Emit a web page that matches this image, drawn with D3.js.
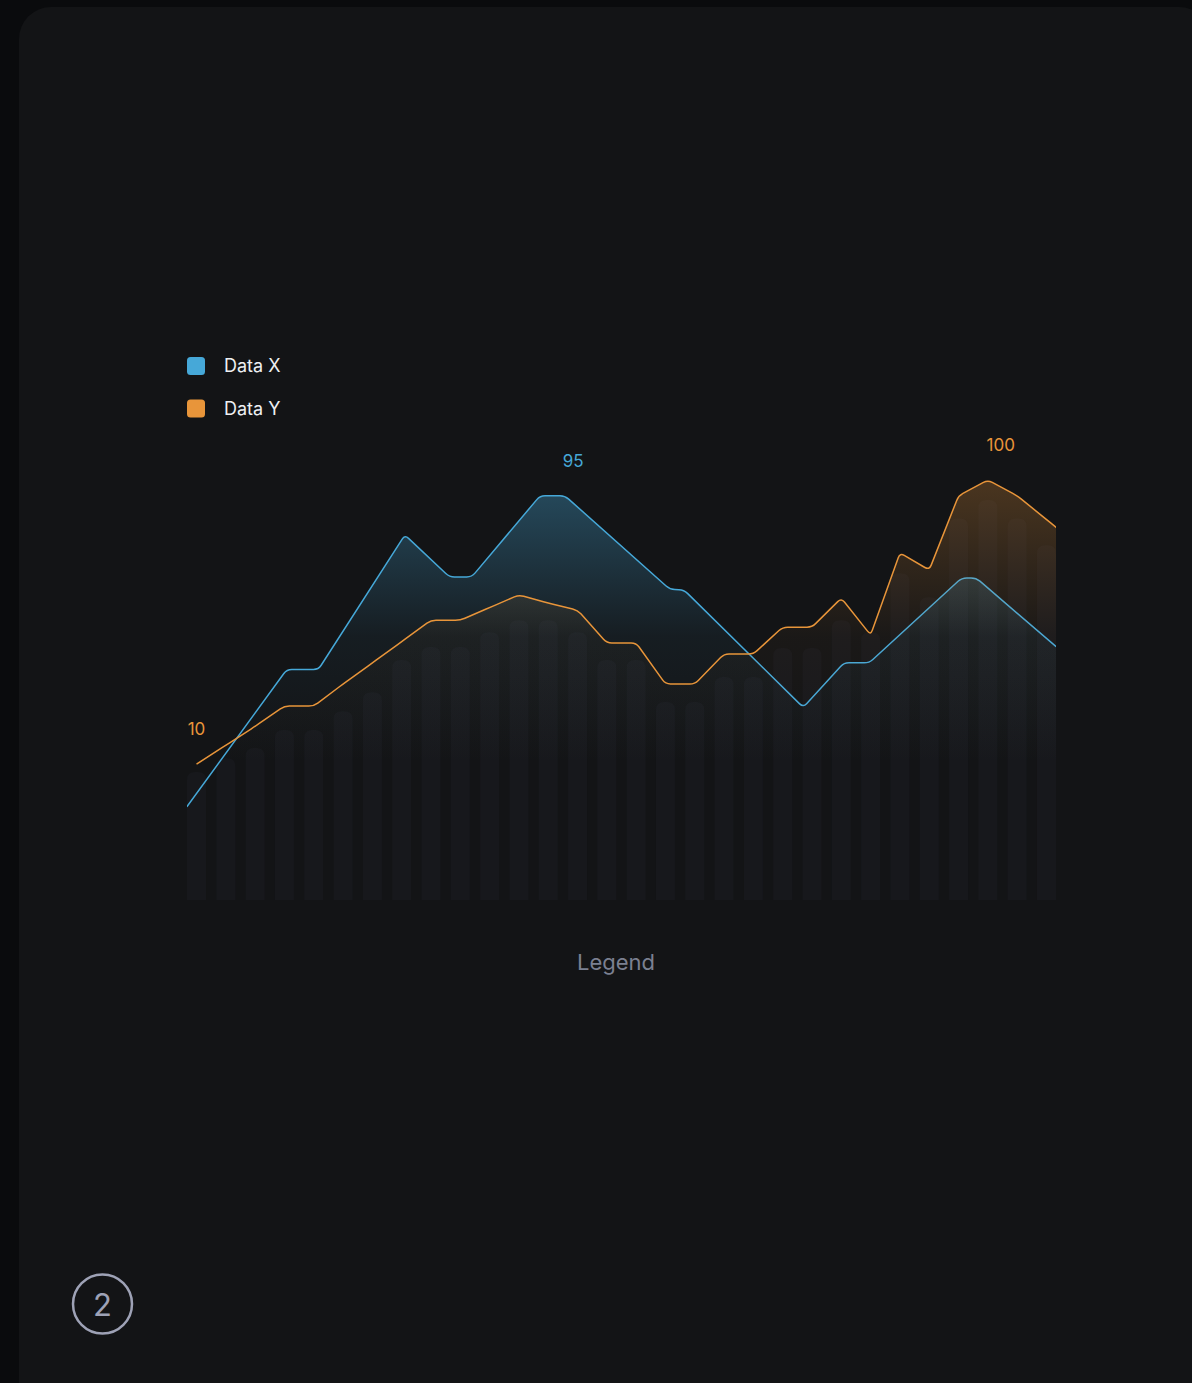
<!DOCTYPE html>
<html>
<head>
<meta charset="utf-8">
<script src="https://cdn.jsdelivr.net/npm/d3@7"></script>
<style>
  html, body { margin: 0; padding: 0; background: #0a0b0d; }
  svg { display: block; font-family: Inter, "Noto Sans", sans-serif; }
</style>
</head>
<body>
<div id="chart"></div>
<script>
// Data – one slot per background bar (30 slots)
const slots = d3.range(30);
const barValues = [7.5, 11.9, 15.1, 20.8, 20.8, 26.8, 32.8, 43.0, 47.1, 47.1,
                   51.8, 55.6, 55.6, 51.8, 43.0, 43.0, 29.7, 29.7, 37.6, 37.6,
                   46.8, 46.8, 55.6, 51.8, 70.5, 62.9, 87.8, 93.7, 87.8, 79.3];

// Data Y: value at every slot (+1 past the edge, clipped)
const yValues = [10, 16, 22, 28.4, 28.4, 35.4, 42.1, 48.8, 55.6, 55.6,
                 59.6, 63.6, 61, 58.8, 48.4, 48.4, 35.4, 35.4, 44.9, 44.9,
                 53.4, 53.4, 62.6, 50.9, 76.9, 71.5, 95, 100, 95, 87.5, 80];

// Data X: break points (slot position, value)
const xSlots  = [-0.33, 3.08, 4.16, 7.11, 8.63, 9.39, 11.72, 12.57, 16.15, 16.63, 20.70, 22.09, 22.95, 26.11, 26.60, 29.33];
const xValues = [-3.5, 40, 40, 82.6, 69.3, 69.3, 95, 95, 65.4, 65.2, 28, 42.1, 42.1, 69, 69, 47.2];

const seriesNames = ["Data X", "Data Y"];
const seriesColors = ["#46a8d8", "#e8953a"];

// annotations: [slot, value, text, series]
const notes = [[0, 10, "10", 1], [12.85, 95, "95", 0], [27.44, 100, "100", 1]];

const W = 1192, H = 1383;
const plot = { left: 187, right: 1056, top: 480, bottom: 900 };

// rounded-corner polyline curve (straight runs, small rounded joints)
function curveRounded(context) {
  const R = 5;
  return {
    areaStart() { this._line = 0; },
    areaEnd() { this._line = NaN; },
    lineStart() { this._pts = []; },
    point(x, y) { this._pts.push([+x, +y]); },
    lineEnd() {
      const p = this._pts, n = p.length;
      if (n) {
        this._line ? context.lineTo(p[0][0], p[0][1]) : context.moveTo(p[0][0], p[0][1]);
        for (let i = 1; i < n - 1; i++) {
          const [ax, ay] = p[i - 1], [cx, cy] = p[i], [bx, by] = p[i + 1];
          const la = Math.hypot(ax - cx, ay - cy), lb = Math.hypot(bx - cx, by - cy);
          const r = Math.min(R, la / 2, lb / 2);
          if (!r) { context.lineTo(cx, cy); continue; }
          context.lineTo(cx + (ax - cx) * r / la, cy + (ay - cy) * r / la);
          context.quadraticCurveTo(cx, cy, cx + (bx - cx) * r / lb, cy + (by - cy) * r / lb);
        }
        if (n > 1) context.lineTo(p[n - 1][0], p[n - 1][1]);
      }
      if (this._line || (this._line !== 0 && n === 1)) context.closePath();
      this._line = 1 - this._line;
    }
  };
}

const svg = d3.select("#chart").append("svg")
  .attr("width", W).attr("height", H);

// card
svg.append("rect")
  .attr("x", 19).attr("y", 7).attr("width", W).attr("height", H + 40)
  .attr("rx", 32).attr("fill", "#131416");

// Scales
const x = d3.scaleBand()
  .domain(slots)
  .range([plot.left, plot.right])
  .paddingInner(0.35).paddingOuter(0);

const pos = d3.scaleLinear()
  .domain([0, 29])
  .range([x(0) + x.bandwidth() / 2, x(29) + x.bandwidth() / 2]);

const y = d3.scaleLinear()
  .domain([-33, 100])
  .range([plot.bottom, plot.top]);

// Gradients + clip
const defs = svg.append("defs");
defs.append("clipPath").attr("id", "plotClip")
  .append("rect")
  .attr("x", plot.left).attr("y", 0)
  .attr("width", plot.right - plot.left).attr("height", plot.bottom);

// [top, middle] opacity of each area fill
const gradStops = [[0.38, 0.06], [0.26, 0.035]];
seriesColors.forEach((c, i) => {
  const g = defs.append("linearGradient").attr("id", "area" + i)
    .attr("gradientUnits", "userSpaceOnUse")
    .attr("x1", 0).attr("x2", 0).attr("y1", plot.top).attr("y2", 765);
  g.append("stop").attr("offset", 0).attr("stop-color", c).attr("stop-opacity", gradStops[i][0]);
  g.append("stop").attr("offset", 0.55).attr("stop-color", c).attr("stop-opacity", gradStops[i][1]);
  g.append("stop").attr("offset", 1).attr("stop-color", c).attr("stop-opacity", 0);
});

// Background bars (rounded tops)
const bw = x.bandwidth();
svg.append("g").selectAll("path")
  .data(barValues).join("path")
  .attr("fill", "#17181c")
  .attr("d", (v, i) => {
    const x0 = x(i), x1 = x0 + bw, top = y(v), r = 8, b = y.range()[0];
    return `M${x0},${b}V${top + r}Q${x0},${top} ${x0 + r},${top}H${x1 - r}Q${x1},${top} ${x1},${top + r}V${b}Z`;
  });

// series points
const seriesX = xSlots.map((s, i) => [s, xValues[i]]);
const seriesY = yValues.map((v, i) => [i, v]);
const series = [seriesX, seriesY];

const area = d3.area()
  .x(d => pos(d[0])).y0(plot.bottom).y1(d => y(d[1]))
  .curve(curveRounded);
const line = d3.line()
  .x(d => pos(d[0])).y(d => y(d[1]))
  .curve(curveRounded);

const gPlot = svg.append("g").attr("clip-path", "url(#plotClip)");
series.forEach((data, i) => {
  gPlot.append("path").datum(data)
    .attr("d", area).attr("fill", `url(#area${i})`);
  gPlot.append("path").datum(data)
    .attr("d", line)
    .attr("fill", "none")
    .attr("stroke", seriesColors[i])
    .attr("stroke-width", 1.5)
    .attr("stroke-linejoin", "round");
});

// value labels
svg.append("g").selectAll("text")
  .data(notes).join("text")
  .attr("x", d => pos(d[0]))
  .attr("y", d => y(d[1]) - 35)
  .attr("dy", "0.35em")
  .attr("text-anchor", "middle")
  .attr("font-size", 17)
  .attr("fill", d => seriesColors[d[3]])
  .text(d => d[2]);

// Legend (top-left)
const legend = svg.append("g").attr("transform", "translate(187,357)");
seriesNames.forEach((name, i) => {
  const g = legend.append("g").attr("transform", `translate(0,${i * 42.5})`);
  g.append("rect").attr("width", 18).attr("height", 18).attr("rx", 3.5)
    .attr("fill", seriesColors[i]);
  g.append("text").attr("x", 37).attr("y", 9).attr("dy", "0.35em")
    .attr("font-size", 18).attr("fill", "#eef0f3").text(name);
});

// axis caption
svg.append("text")
  .attr("x", 616).attr("y", 962).attr("dy", "0.35em")
  .attr("text-anchor", "middle")
  .attr("font-size", 22).attr("fill", "#7b8091")
  .text("Legend");

// page badge
svg.append("circle")
  .attr("cx", 102.5).attr("cy", 1304).attr("r", 29.5)
  .attr("fill", "none").attr("stroke", "#9ea2b6").attr("stroke-width", 2.5);
svg.append("text")
  .attr("x", 102.5).attr("y", 1305).attr("dy", "0.35em")
  .attr("text-anchor", "middle")
  .attr("font-size", 31).attr("fill", "#9ea2b6")
  .text("2");
</script>
</body>
</html>
